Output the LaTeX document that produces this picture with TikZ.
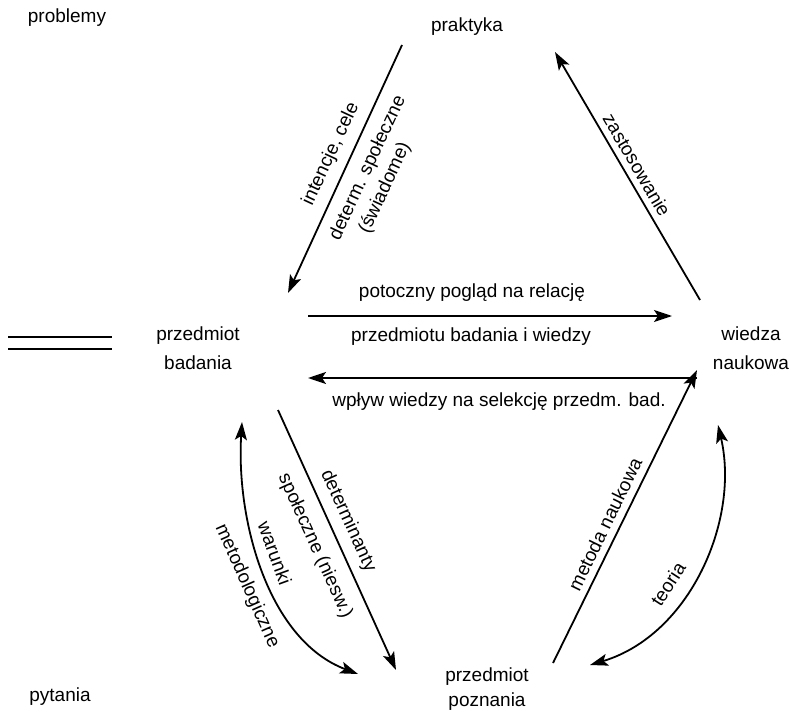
\documentclass[tikz,border=0pt]{standalone}
\usepackage{fontspec}
\setmainfont{Liberation Sans}
\usetikzlibrary{arrows.meta}
\begin{document}
\begin{tikzpicture}[x=1pt,y=-1pt,
  lbl/.style={font=\fontsize{19}{29}\selectfont, inner sep=0pt, align=center},
  conn/.style={line width=1.8pt, -{Stealth[length=18pt,width=12pt,inset=4pt]}},
  both/.style={line width=1.8pt, {Stealth[length=18pt,width=12pt,inset=4pt]}-{Stealth[length=18pt,width=12pt,inset=4pt]}},
]
\useasboundingbox (0,0) rectangle (791,711);

% main nodes
\node[lbl] (problemy) at (67,18) {problemy};
\node[lbl] (praktyka) at (467,27) {praktyka};
\node[lbl] (pb) at (198,348) {przedmiot\\badania};
\node[lbl] (wn) at (751,348) {wiedza\\naukowa};
\node[lbl] (pp) at (487,689) {przedmiot\\[-4pt]poznania};
\node[lbl] (pytania) at (60,697) {pytania};

% double line symbol
\draw[line width=1.8pt] (8,337) -- (112,337);
\draw[line width=1.8pt] (8,349) -- (112,349);

% connector end points
\coordinate (a1s) at (402,45);  \coordinate (a1e) at (288,293);
\coordinate (a2s) at (700,300); \coordinate (a2e) at (555,52);
\coordinate (a3s) at (308,316); \coordinate (a3e) at (672,316);
\coordinate (a4s) at (697,378); \coordinate (a4e) at (308,378);
\coordinate (a5s) at (278,410); \coordinate (a5e) at (396,670);
\coordinate (a6s) at (242,422); \coordinate (a6e) at (358,674);
\coordinate (a7s) at (553,663); \coordinate (a7e) at (697,370);
\coordinate (a8s) at (718,425); \coordinate (a8e) at (590,665);

% connectors
\draw[conn] (a1s) -- (a1e);
\draw[conn] (a2s) -- (a2e);
\draw[conn] (a3s) -- (a3e);
\draw[conn] (a4s) -- (a4e);
\draw[conn] (a5s) -- (a5e);
\draw[both] (a6s) .. controls (236,520) and (268,640) .. (a6e);
\draw[conn] (a7s) -- (a7e);
\draw[both] (a8s) .. controls (740,520) and (690,635) .. (a8e);

% connector labels
\node[lbl, rotate=65] (l1a) at (331,154) {intencje, cele};
\node[lbl, rotate=65] (l1b) at (368,168) {determ. społeczne};
\node[lbl, rotate=65] (l1c) at (385,188) {(świadome)};
\node[lbl, rotate=-59.7] (l2) at (637,165) {zastosowanie};
\node[lbl] (l3a) at (472,293) {potoczny pogląd na relację};
\node[lbl] (l3b) at (471,337) {przedmiotu badania i wiedzy};
\node[lbl] (l4) at (499,402) {wpływ wiedzy na selekcję przedm. bad.};
\node[lbl, rotate=-65.6] (l5a) at (348,521) {determinanty};
\node[lbl, rotate=-65.6] (l5b) at (315,546) {społeczne (niesw.)};
\node[lbl, rotate=-70] (l6a) at (275,553) {warunki};
\node[lbl, rotate=-66] (l6b) at (247,586) {metodologiczne};
\node[lbl, rotate=64] (l7) at (605,524) {metoda naukowa};
\node[lbl, rotate=57] (l8) at (668,584) {teoria};
\end{tikzpicture}
\end{document}
